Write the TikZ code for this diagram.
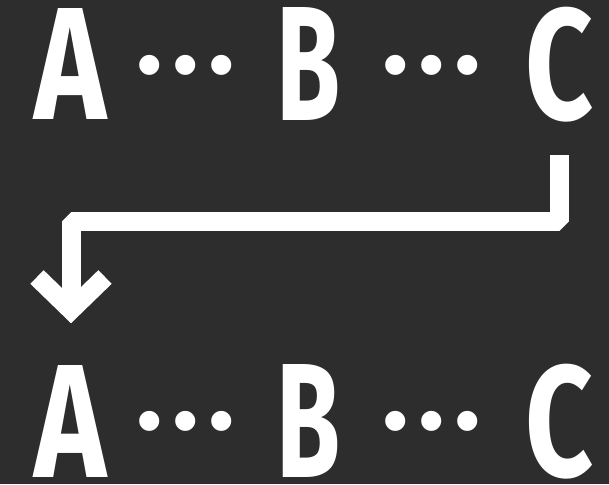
\documentclass[tikz,border=0pt]{standalone}
\usepackage{fontspec}
\setmainfont{Fira Sans}
\definecolor{bg}{HTML}{2D2D2D}
\tikzset{
  letter/.style={inner sep=0pt, outer sep=0pt, text=white, font=\bfseries, anchor=south},
  dotgroup/.style={inner sep=0pt, outer sep=0pt, text=white, font=\bfseries},
  conn/.style={draw=white, line width=19pt, line join=bevel, line cap=butt},
  chevron/.style={draw=white, line width=19pt, line join=miter, line cap=butt},
}
\newcommand{\onedot}{\makebox[36pt]{\resizebox*{!}{20pt}{.}}}
\newcommand{\dotrow}{\onedot\onedot\onedot}
\begin{document}
\begin{tikzpicture}[x=1pt,y=-1pt]
  \fill[bg] (0,0) rectangle (609,484);
  \useasboundingbox (0,0) rectangle (609,484);
  % top row
  \node[letter] (A1) at (71,119) {\resizebox*{72pt}{111pt}{A}};
  \node[dotgroup] (D1) at (185.3,65) {\dotrow};
  \node[letter] (B1) at (308.5,120) {\resizebox*{64pt}{113pt}{B}};
  \node[dotgroup] (D2) at (432,65) {\dotrow};
  \node[letter] (C1) at (559.4,122) {\resizebox*{68pt}{115pt}{C}};
  % bottom row
  \node[letter] (A2) at (71,477) {\resizebox*{72pt}{112pt}{A}};
  \node[dotgroup] (D3) at (185.3,421.7) {\dotrow};
  \node[letter] (B2) at (308.5,477) {\resizebox*{64pt}{113pt}{B}};
  \node[dotgroup] (D4) at (432,421.7) {\dotrow};
  \node[letter] (C2) at (559.4,479) {\resizebox*{68pt}{115pt}{C}};
  % connector from C (top) to A (bottom)
  \coordinate (s) at ([yshift=-33pt]C1.south);
  \coordinate (e) at ([yshift=55pt]A2.north);
  \coordinate (h) at (0,221);
  \draw[conn] (s) -- (s |- h) -- (e |- h) -- (e);
  \draw[chevron] ([shift={(-34,-33)}]e) -- (e) -- ([shift={(34,-33)}]e);
\end{tikzpicture}
\end{document}
